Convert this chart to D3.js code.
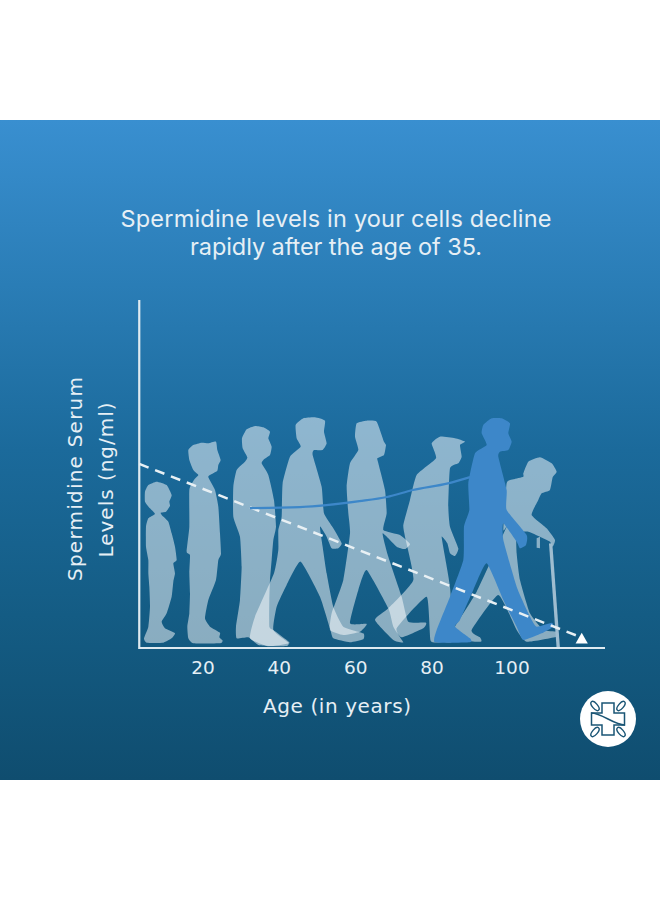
<!DOCTYPE html>
<html><head><meta charset="utf-8">
<script src="https://cdn.jsdelivr.net/npm/d3@7/dist/d3.min.js"></script>
<style>html,body{margin:0;padding:0;background:#fff}svg{display:block}text{font-family:"DejaVu Sans",sans-serif;fill:#e6eff5}</style>
</head><body><svg id="c" width="660" height="900"></svg>
<script>
// ---- chart data ----
const titleLines = ["Spermidine levels in your cells decline", "rapidly after the age of 35."];
const yLabelLines = ["Spermidine Serum", "Levels (ng/ml)"];
const xLabel = "Age (in years)";
const xTicks = [20, 40, 60, 80, 100];
const dashedAges = [3.3, 117];
const dashedLevels = [52.9, 3.2];
const curveAges = [32.3, 45.4, 61, 68.2, 75, 84, 89.5];
const curveLevels = [40.2, 40.5, 42.2, 43.4, 45.4, 47.3, 49.1];

// ---- silhouette outlines (decoration, local zoomed units) ----
const boy=[[80,245],[110,255],[125,285],[118,305],[120,318],[108,335],[92,338],[95,345],[115,365],[125,400],[135,440],[140,480],[130,490],[135,520],[130,545],[125,590],[110,640],[95,665],[105,685],[135,700],[125,715],[100,728],[50,728],[42,715],[55,680],[60,620],[58,560],[55,520],[55,480],[48,440],[48,380],[55,355],[75,342],[60,325],[45,305],[45,275],[55,255]];
const teen=[[215,128],[235,130],[258,125],[262,150],[272,180],[265,195],[262,212],[240,225],[235,232],[255,270],[265,320],[270,400],[273,462],[265,480],[258,540],[235,600],[225,655],[240,680],[270,698],[268,712],[278,722],[270,730],[190,730],[175,715],[172,680],[178,640],[180,580],[178,520],[180,465],[170,455],[178,380],[178,270],[192,240],[205,225],[190,210],[178,180],[175,150],[190,135]];
const adult=[[375,78],[400,82],[420,95],[415,115],[425,140],[420,165],[402,178],[395,190],[415,225],[432,300],[438,380],[430,420],[425,480],[420,540],[418,600],[418,680],[430,690],[470,720],[478,730],[430,738],[385,735],[355,712],[320,715],[318,680],[330,600],[335,500],[330,410],[310,350],[310,260],[320,210],[345,185],[352,172],[338,145],[336,115],[350,88]];
const walker=[[520,55],[555,52],[585,62],[582,95],[590,130],[578,150],[552,150],[548,165],[575,260],[582,340],[610,385],[635,430],[625,445],[605,445],[590,410],[570,380],[578,440],[590,520],[610,620],[640,680],[700,700],[700,718],[660,727],[610,715],[600,685],[570,590],[512,485],[470,555],[440,620],[430,690],[475,728],[470,738],[410,738],[360,715],[375,650],[432,520],[445,450],[445,390],[455,350],[458,250],[480,170],[512,140],[500,115],[497,75]];
const middle=[[-10,70],[20,62],[50,65],[72,125],[78,135],[72,165],[52,175],[55,190],[75,270],[80,340],[70,390],[120,405],[150,432],[135,447],[110,440],[68,400],[85,470],[125,590],[145,665],[198,668],[190,685],[125,712],[100,680],[85,625],[20,510],[-5,570],[-30,670],[20,672],[0,695],[-50,705],[-90,690],[-85,640],[-50,540],[-30,400],[-35,340],[-40,260],[-30,190],[-5,150],[-15,110]];
const capped=[[215,130],[240,110],[285,115],[315,125],[300,135],[305,170],[295,190],[270,205],[265,320],[270,380],[295,445],[285,468],[270,460],[262,430],[245,410],[255,470],[270,560],[280,720],[250,726],[212,722],[200,590],[110,685],[130,727],[100,720],[45,660],[85,625],[160,540],[135,410],[130,375],[150,300],[170,225],[228,175]];
const elder=[[490,220],[505,185],[540,172],[575,190],[590,215],[578,232],[570,270],[545,280],[535,300],[515,345],[560,385],[585,420],[578,440],[570,425],[540,410],[505,395],[470,400],[470,460],[480,540],[510,640],[550,690],[590,695],[590,710],[500,725],[470,690],[415,585],[335,690],[360,712],[362,725],[280,720],[285,680],[350,575],[440,380],[430,390],[440,250],[460,238],[490,230]];
const caneHook=[[530,415],[540,410],[540,445],[530,443]];
const blueMan=[[370,75],[395,55],[425,55],[450,70],[445,100],[455,125],[445,150],[420,155],[415,170],[440,270],[440,330],[500,405],[498,435],[480,445],[470,425],[430,370],[430,420],[470,560],[510,650],[530,680],[575,668],[580,680],[545,700],[490,720],[470,680],[430,600],[380,490],[340,570],[300,660],[285,680],[330,715],[330,727],[225,727],[230,690],[270,590],[310,480],[312,380],[328,330],[325,250],[345,160],[380,135],[365,100]];
const caneLine=[[572,430],[595,745]];

const svg=d3.select("#c");
const defs=svg.append("defs");
const g=defs.append("linearGradient").attr("id","bg").attr("x1",0).attr("x2",0).attr("y1",0).attr("y2",1);
[[0,"#398fd0"],[.25,"#2a7db6"],[.5,"#1b6a9b"],[.75,"#145c84"],[1,"#0f4d6f"]].forEach(s=>g.append("stop").attr("offset",s[0]).attr("stop-color",s[1]));
svg.append("rect").attr("x",0).attr("y",120).attr("width",660).attr("height",660).attr("fill","url(#bg)");

const x=d3.scaleLinear().domain([20,80,100]).range([203,432,512]);
const y=d3.scaleLinear().domain([0,100]).range([648,300]);

// silhouettes
const soft=d3.line().curve(d3.curveCardinalClosed.tension(.55));
const left=svg.append("g").attr("transform","translate(130,400) scale(.3333)");
const right=svg.append("g").attr("transform","translate(360,400) scale(.3333)");
const pale="rgba(255,255,255,.5)";
[boy,teen,adult,walker].forEach(p=>left.append("path").attr("d",soft(p)).attr("fill",pale));
[middle,capped].forEach(p=>right.append("path").attr("d",soft(p)).attr("fill",pale));
right.append("path").attr("d",soft(elder)).attr("fill",pale);
right.append("path").attr("d",d3.line()(caneHook)+"Z").attr("fill",pale);
right.append("path").attr("d",d3.line()(caneLine)).attr("stroke","#9fbdd0").attr("stroke-width",10).attr("fill","none");
right.append("path").attr("d",soft(blueMan)).attr("fill","#3d87c9");

// axes
svg.append("path").attr("d",`M${x(3.3)},${y(100)}V${y(0)}H605`).attr("fill","none").attr("stroke","#dfeaf0").attr("stroke-width",2.2);

// dashed decline + blue curve
const pts=dashedAges.map((a,i)=>[x(a),y(dashedLevels[i])]);
svg.append("path").attr("d",d3.line()(pts)).attr("stroke","#e8f0f4").attr("stroke-width",2.5).attr("stroke-dasharray","10 7").attr("fill","none");
svg.append("path").attr("d",d3.symbol(d3.symbolTriangle,65)()).attr("transform",`translate(${pts[1][0]+1.7},${pts[1][1]+3})`).attr("fill","#fff");
svg.append("path").attr("d",d3.line().x((d,i)=>x(curveAges[i])).y(d=>y(d)).curve(d3.curveMonotoneX)(curveLevels)).attr("stroke","#3d87c9").attr("stroke-width",2.2).attr("fill","none");

// text
const titleLen=[431,292];
titleLines.forEach((t,i)=>svg.append("text").attr("x",336).attr("y",227+i*28).attr("text-anchor","middle").attr("font-size",23.5).attr("textLength",titleLen[i]).style("font-family","Inter, sans-serif").text(t));
xTicks.forEach(t=>svg.append("text").attr("x",x(t)).attr("y",674).attr("text-anchor","middle").attr("font-size",18.5).text(t));
svg.append("text").attr("x",337).attr("y",713).attr("text-anchor","middle").attr("font-size",20).attr("textLength",148).text(xLabel);
const yLen=[204,155], yBase=[82,113];
yLabelLines.forEach((t,i)=>svg.append("text").attr("transform",`translate(${yBase[i]},${i?480:479}) rotate(-90)`).attr("text-anchor","middle").attr("font-size",20).attr("textLength",yLen[i]).text(t));

// logo
const lg=svg.append("g").attr("transform","translate(608,719)");
lg.append("circle").attr("r",28).attr("fill","#fff");
lg.append("path").attr("d","M-6,-16H6V-6H16.5V6H6V16H-6V6H-16.5V-6H-6Z").attr("fill","none").attr("stroke","#1a5575").attr("stroke-width",1.5);
lg.append("path").attr("d","M-17,-6C-6,-6 6,6 17,6").attr("fill","none").attr("stroke","#1a5575").attr("stroke-width",1.5);
[[-13,-13,40],[13,-13,-40],[-13,13,-40],[13,13,40]].forEach(l=>lg.append("ellipse").attr("rx",2.6).attr("ry",5.5).attr("transform",`translate(${l[0]},${l[1]}) rotate(${-l[2]})`).attr("fill","none").attr("stroke","#1a5575").attr("stroke-width",1.4));
</script></body></html>
